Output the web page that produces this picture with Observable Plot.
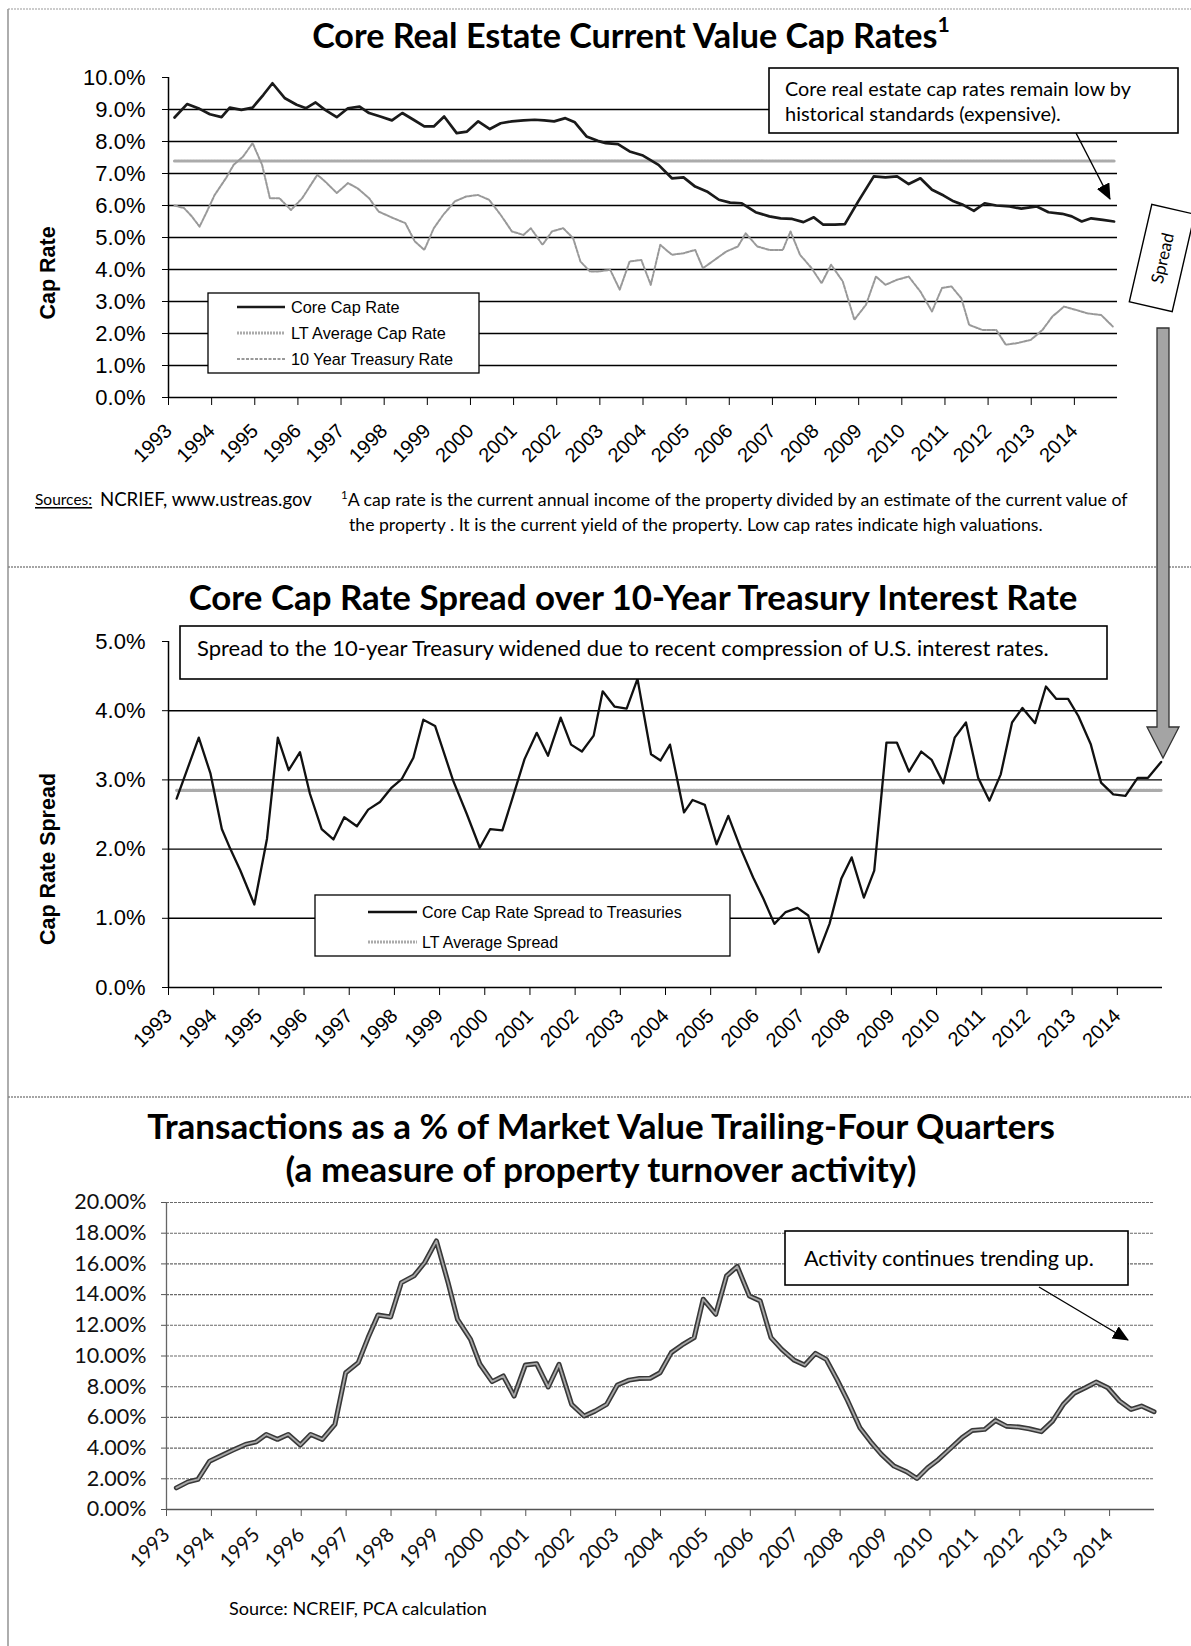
<!DOCTYPE html>
<html><head><meta charset="utf-8">
<script src="https://cdn.jsdelivr.net/npm/d3@7"></script>
<script src="https://cdn.jsdelivr.net/npm/@observablehq/plot@0.6"></script>
<style>
body{margin:0;background:#fff;}
#page{position:relative;width:1191px;height:1646px;overflow:hidden;background:#fff;}
</style></head>
<body><div id="page"></div>
<script>
// ---------------- DATA ----------------
const years = d3.range(1993, 2015); // tick labels 1993..2014

const coreT = [1993.14,1993.43,1993.72,1993.96,1994.23,1994.42,1994.69,1994.95,1995.20,1995.41,1995.70,1995.97,1996.19,1996.41,1996.63,1996.90,1997.16,1997.43,1997.65,1997.91,1998.18,1998.42,1998.68,1998.93,1999.15,1999.39,1999.68,1999.92,2000.18,2000.45,2000.70,2000.96,2001.23,2001.49,2001.71,2001.94,2002.20,2002.42,2002.69,2002.95,2003.14,2003.42,2003.69,2004.00,2004.36,2004.67,2004.94,2005.21,2005.48,2005.76,2006.02,2006.29,2006.61,2006.93,2007.19,2007.46,2007.72,2007.96,2008.18,2008.45,2008.68,2008.99,2009.35,2009.62,2009.89,2010.16,2010.43,2010.70,2010.97,2011.20,2011.42,2011.67,2011.92,2012.19,2012.50,2012.77,2013.13,2013.40,2013.72,2013.94,2014.17,2014.39,2014.66,2014.92];
const coreV = [8.75,9.17,9.02,8.85,8.76,9.06,8.99,9.06,9.46,9.82,9.35,9.15,9.04,9.22,8.99,8.76,9.04,9.09,8.89,8.78,8.66,8.89,8.68,8.47,8.47,8.78,8.26,8.31,8.63,8.39,8.57,8.63,8.66,8.68,8.66,8.63,8.73,8.60,8.16,8.02,7.95,7.92,7.69,7.56,7.27,6.85,6.88,6.59,6.44,6.18,6.09,6.07,5.79,5.66,5.60,5.58,5.48,5.63,5.40,5.40,5.42,6.13,6.91,6.88,6.91,6.67,6.85,6.49,6.31,6.13,6.02,5.83,6.07,6.00,5.97,5.90,5.97,5.79,5.74,5.66,5.50,5.60,5.55,5.50];

const ltCapT = [1993.14, 2014.92];
const ltCapV = [7.39, 7.39];

const tsyT = [1993.14,1993.36,1993.54,1993.72,1993.89,1994.07,1994.33,1994.51,1994.73,1994.95,1995.17,1995.35,1995.57,1995.84,1996.10,1996.45,1996.67,1996.90,1997.16,1997.38,1997.65,1997.87,1998.22,1998.49,1998.71,1998.93,1999.15,1999.37,1999.64,1999.90,2000.17,2000.43,2000.70,2000.96,2001.23,2001.40,2001.67,2001.89,2002.15,2002.38,2002.55,2002.77,2002.96,2003.24,2003.46,2003.69,2003.96,2004.18,2004.40,2004.67,2004.94,2005.21,2005.39,2005.66,2005.93,2006.20,2006.38,2006.65,2006.93,2007.24,2007.42,2007.64,2007.91,2008.14,2008.36,2008.63,2008.90,2009.17,2009.40,2009.62,2009.89,2010.16,2010.43,2010.70,2010.93,2011.15,2011.38,2011.56,2011.87,2012.19,2012.41,2012.68,2012.99,2013.26,2013.49,2013.76,2014.03,2014.30,2014.62,2014.89];
const tsyV = [6.00,5.92,5.66,5.34,5.81,6.33,6.85,7.27,7.53,7.95,7.27,6.23,6.23,5.86,6.23,6.96,6.70,6.39,6.70,6.54,6.23,5.81,5.60,5.45,4.88,4.61,5.29,5.71,6.13,6.28,6.33,6.18,5.71,5.19,5.08,5.29,4.77,5.19,5.29,4.98,4.25,3.94,3.94,3.99,3.37,4.25,4.30,3.52,4.77,4.46,4.51,4.61,4.04,4.30,4.56,4.72,5.13,4.72,4.61,4.61,5.19,4.46,4.04,3.57,4.15,3.63,2.43,2.90,3.78,3.52,3.68,3.78,3.31,2.69,3.42,3.47,3.10,2.27,2.11,2.11,1.65,1.70,1.80,2.11,2.53,2.84,2.74,2.63,2.58,2.22];

const spreadT = [1993.18,1993.67,1993.93,1994.18,1994.37,1994.59,1994.90,1995.18,1995.42,1995.66,1995.91,1996.13,1996.39,1996.65,1996.89,1997.17,1997.42,1997.68,1997.94,1998.16,1998.42,1998.64,1998.90,1999.30,1999.60,1999.89,2000.12,2000.39,2000.62,2000.88,2001.15,2001.40,2001.68,2001.91,2002.15,2002.41,2002.61,2002.87,2003.14,2003.38,2003.68,2003.89,2004.10,2004.41,2004.60,2004.87,2005.13,2005.39,2005.67,2005.94,2006.17,2006.41,2006.66,2006.92,2007.16,2007.39,2007.63,2007.89,2008.12,2008.39,2008.62,2008.89,2009.12,2009.39,2009.66,2009.89,2010.15,2010.40,2010.65,2010.92,2011.17,2011.42,2011.67,2011.90,2012.18,2012.42,2012.65,2012.91,2013.14,2013.41,2013.64,2013.91,2014.18,2014.45,2014.68,2014.97];
const spreadV = [2.73,3.61,3.09,2.29,2.00,1.69,1.20,2.15,3.61,3.14,3.40,2.80,2.29,2.14,2.46,2.33,2.57,2.68,2.89,3.01,3.32,3.87,3.78,2.99,2.51,2.02,2.29,2.27,2.75,3.30,3.68,3.35,3.90,3.51,3.41,3.64,4.28,4.06,4.03,4.46,3.37,3.28,3.51,2.53,2.71,2.64,2.07,2.48,2.00,1.59,1.28,0.92,1.09,1.15,1.04,0.51,0.92,1.57,1.88,1.30,1.69,3.54,3.54,3.12,3.41,3.29,2.95,3.61,3.83,3.03,2.70,3.08,3.83,4.04,3.82,4.35,4.17,4.17,3.92,3.52,2.96,2.79,2.77,3.03,3.03,3.26];

const ltSpreadT = [1993.18, 2014.97];
const ltSpreadV = [2.85, 2.85];

const txnT = [1993.22,1993.48,1993.70,1993.96,1994.20,1994.48,1994.76,1995.00,1995.22,1995.47,1995.71,1995.98,1996.21,1996.47,1996.75,1996.99,1997.27,1997.49,1997.71,1997.99,1998.23,1998.51,1998.75,1999.01,1999.27,1999.48,1999.77,1999.98,2000.25,2000.50,2000.74,2000.99,2001.24,2001.50,2001.74,2002.02,2002.30,2002.54,2002.80,2003.04,2003.30,2003.53,2003.77,2003.99,2004.24,2004.48,2004.75,2004.95,2005.23,2005.47,2005.71,2005.98,2006.22,2006.46,2006.70,2006.98,2007.21,2007.45,2007.69,2007.93,2008.17,2008.44,2008.68,2008.92,2009.20,2009.48,2009.71,2009.95,2010.19,2010.43,2010.71,2010.94,2011.22,2011.46,2011.70,2011.98,2012.21,2012.48,2012.73,2012.97,2013.21,2013.46,2013.70,2013.96,2014.22,2014.48,2014.71,2014.99];
const txnV = [1.41,1.80,1.96,3.15,3.48,3.87,4.24,4.41,4.89,4.57,4.89,4.20,4.89,4.57,5.54,8.91,9.57,11.20,12.67,12.54,14.78,15.22,16.09,17.50,14.78,12.39,11.09,9.46,8.33,8.70,7.39,9.41,9.50,7.98,9.46,6.85,6.09,6.41,6.85,8.11,8.43,8.54,8.55,8.91,10.22,10.72,11.20,13.70,12.72,15.22,15.83,13.91,13.59,11.20,10.43,9.72,9.41,10.17,9.78,8.48,7.07,5.33,4.41,3.59,2.83,2.46,2.02,2.72,3.26,3.91,4.67,5.15,5.22,5.80,5.43,5.37,5.26,5.07,5.76,6.85,7.57,7.93,8.30,7.93,7.07,6.52,6.74,6.37];

const capTicks = d3.range(0, 11);
const capGrid = d3.range(1, 10);
const spreadTicks = d3.range(0, 6);
const spreadGrid = d3.range(1, 5);
const txnTicks = d3.range(0, 21, 2);
const txnGrid = d3.range(2, 21, 2);

// ---------------- LAYOUT ----------------
const W = 1191;
const page = document.getElementById("page");
const ARIAL = "'Liberation Sans', Arial, sans-serif";
const CAL = "Lato, 'Open Sans', sans-serif";
const pts = (T, V) => T.map((t, i) => ({t, v: V[i]}));

function place(svg, top) {
  svg.style.position = "absolute";
  svg.style.left = "0px";
  svg.style.top = top + "px";
  page.appendChild(svg);
}

// Top chart: cap rates
const c1 = Plot.plot({
  width: W, height: 470,
  marginLeft: 168, marginRight: W - 1117, marginTop: 77, marginBottom: 73,
  style: {fontFamily: ARIAL, fontSize: "18px", background: "transparent", overflow: "visible"},
  x: {domain: [1993, 2015], axis: null, label: null},
  y: {domain: [0, 10], axis: null, label: null},
  marks: [
    Plot.ruleY(capGrid, {stroke: "#000", strokeWidth: 1.4}),
    Plot.line(pts(ltCapT, ltCapV), {x: "t", y: "v", stroke: "#ababab", strokeWidth: 3.2, strokeDasharray: "2,1"}),
    Plot.line(pts(tsyT, tsyV), {x: "t", y: "v", stroke: "#999", strokeWidth: 2, strokeDasharray: "3,1.5"}),
    Plot.line(pts(coreT, coreV), {x: "t", y: "v", stroke: "#1a1a1a", strokeWidth: 2.7}),
    Plot.ruleX([1993], {stroke: "#000", strokeWidth: 1.5}),
    Plot.ruleY([0], {stroke: "#000", strokeWidth: 1.5}),
    Plot.axisY({ticks: capTicks, tickFormat: d => d.toFixed(1) + "%", label: null, tickSize: 6, tickPadding: 17, fontSize: 22, stroke: "#000", fill: "#000"}),
    Plot.axisX({ticks: years, tickFormat: d => String(d), label: null, tickRotate: -45, tickSize: 8, tickPadding: 22, fontSize: 20, stroke: "#000", fill: "#000"})
  ]
});
place(c1, 0);

// Middle chart: spread
const c2 = Plot.plot({
  width: W, height: 500,
  marginLeft: 168, marginRight: W - 1162, marginTop: 81, marginBottom: 73,
  style: {fontFamily: ARIAL, fontSize: "18px", background: "transparent", overflow: "visible"},
  x: {domain: [1993, 2015], axis: null, label: null},
  y: {domain: [0, 5], axis: null, label: null},
  marks: [
    Plot.ruleY(spreadGrid, {stroke: "#000", strokeWidth: 1.4}),
    Plot.line(pts(ltSpreadT, ltSpreadV), {x: "t", y: "v", stroke: "#ababab", strokeWidth: 3.2, strokeDasharray: "2,1"}),
    Plot.line(pts(spreadT, spreadV), {x: "t", y: "v", stroke: "#111", strokeWidth: 2.3}),
    Plot.ruleX([1993], {stroke: "#000", strokeWidth: 1.5}),
    Plot.ruleY([0], {stroke: "#000", strokeWidth: 1.5}),
    Plot.axisY({ticks: spreadTicks, tickFormat: d => d.toFixed(1) + "%", label: null, tickSize: 6, tickPadding: 17, fontSize: 22, stroke: "#000", fill: "#000"}),
    Plot.axisX({ticks: years, tickFormat: d => String(d), label: null, tickRotate: -45, tickSize: 8, tickPadding: 17, fontSize: 20, stroke: "#000", fill: "#000"})
  ]
});
place(c2, 560);

// Bottom chart: transactions
const c3 = Plot.plot({
  width: W, height: 500,
  marginLeft: 166, marginRight: W - 1154, marginTop: 102, marginBottom: 91,
  style: {fontFamily: CAL, fontSize: "18px", background: "transparent", overflow: "visible"},
  x: {domain: [1993, 2015], axis: null, label: null},
  y: {domain: [0, 20], axis: null, label: null},
  marks: [
    Plot.ruleY(txnGrid, {stroke: "#6a6a6a", strokeWidth: 1.1, strokeDasharray: "3,1"}),
    Plot.line(pts(txnT, txnV), {x: "t", y: "v", stroke: "#383838", strokeWidth: 5}),
    Plot.line(pts(txnT, txnV), {x: "t", y: "v", stroke: "#a8a8a8", strokeWidth: 1.8}),
    Plot.ruleX([1993], {stroke: "#666", strokeWidth: 1.3}),
    Plot.ruleY([0], {stroke: "#555", strokeWidth: 1.3}),
    Plot.axisY({ticks: txnTicks, tickFormat: d => d.toFixed(2) + "%", label: null, tickSize: 5, tickPadding: 15, fontSize: 21.5, stroke: "#555", fill: "#111"}),
    Plot.axisX({ticks: years, tickFormat: d => String(d), label: null, tickRotate: -45, tickSize: 7, tickPadding: 15, fontSize: 20, stroke: "#555", fill: "#111"})
  ]
});
place(c3, 1100);

// ---------------- OVERLAY (annotations, titles, legends) ----------------
const ov = d3.select(page).append("svg")
  .attr("width", W).attr("height", 1646)
  .style("position", "absolute").style("left", "0px").style("top", "0px");

const defs = ov.append("defs");
defs.append("marker").attr("id", "ah").attr("markerUnits", "userSpaceOnUse")
  .attr("markerWidth", 16).attr("markerHeight", 14).attr("refX", 15).attr("refY", 7).attr("orient", "auto")
  .append("path").attr("d", "M0,0 L16,7 L0,14 Z").attr("fill", "#000");

function txt(x, y, s, o = {}) {
  const size = o.size || 16;
  const t = ov.append("text").attr("x", x).attr("y", y)
    .attr("font-family", o.family || CAL).attr("font-size", size)
    .attr("font-weight", o.weight || 400).attr("text-anchor", o.anchor || "start")
    .attr("dominant-baseline", "central").attr("fill", o.fill || "#000");
  if (o.transform) t.attr("transform", o.transform);
  if (o.sup) {
    t.append("tspan").text(s);
    t.append("tspan").attr("font-size", size * 0.62).attr("dy", -size * 0.28).text(o.sup);
  } else if (o.pre) {
    t.append("tspan").attr("font-size", size * 0.65).attr("dy", -size * 0.3).text(o.pre);
    t.append("tspan").attr("dy", size * 0.3).text(s);
  } else t.text(s);
  if (o.fit) {
    const L = t.node().getComputedTextLength();
    const k = o.fit / L;
    t.attr("font-size", size * k);
    t.selectAll("tspan").each(function() {
      const ts = d3.select(this);
      if (ts.attr("font-size")) ts.attr("font-size", +ts.attr("font-size") * k);
      if (ts.attr("dy")) ts.attr("dy", +ts.attr("dy") * k);
    });
  }
  if (o.underline) t.attr("text-decoration", "underline");
  return t;
}
function box(x, y, w, h, sw = 1.6) {
  ov.append("rect").attr("x", x).attr("y", y).attr("width", w).attr("height", h)
    .attr("fill", "#fff").attr("stroke", "#000").attr("stroke-width", sw);
}
function seg(x1, y1, x2, y2, o = {}) {
  const l = ov.append("line").attr("x1", x1).attr("y1", y1).attr("x2", x2).attr("y2", y2)
    .attr("stroke", o.stroke || "#000").attr("stroke-width", o.width || 1.5);
  if (o.dash) l.attr("stroke-dasharray", o.dash);
  if (o.marker) l.attr("marker-end", "url(#ah)");
  return l;
}

// page frame and dividers
seg(8, 9, 8, 1646, {stroke: "#777", width: 1.2});
seg(8, 9, W, 9, {stroke: "#999", width: 1, dash: "2,1"});
seg(8, 567, W, 567, {stroke: "#888", width: 1.6, dash: "2,1"});
seg(8, 1097, W, 1097, {stroke: "#888", width: 1.6, dash: "2,1"});

// Titles
txt(631, 34, "Core Real Estate Current Value  Cap Rates", {size: 28, weight: 700, anchor: "middle", sup: "1", fit: 638});
txt(633, 596, "Core Cap Rate Spread over 10-Year Treasury Interest Rate", {size: 29, weight: 700, anchor: "middle", fit: 889});
txt(601, 1125, "Transactions as a % of Market Value Trailing-Four  Quarters", {size: 29, weight: 700, anchor: "middle", fit: 908});
txt(601, 1168, "(a measure of property turnover activity)", {size: 29, weight: 700, anchor: "middle", fit: 631});

// y-axis titles
txt(0, 0, "Cap Rate", {family: ARIAL, size: 21.5, weight: 700, anchor: "middle", transform: "translate(48,273) rotate(-90)"});
txt(0, 0, "Cap Rate Spread", {family: ARIAL, size: 21.5, weight: 700, anchor: "middle", transform: "translate(48,859) rotate(-90)"});

// Top annotation
box(769, 68, 409, 65);
txt(785, 88, "Core real estate cap rates remain low by", {size: 17.5, fit: 346});
txt(785, 113, "historical standards (expensive).", {size: 17.5, fit: 276});
seg(1076, 133, 1110, 199, {width: 1.4, marker: true});

// Top legend
box(208, 293, 271, 80, 1.3);
const leg1 = [
  {label: "Core Cap Rate", stroke: "#1a1a1a", w: 2.7, dash: null},
  {label: "LT Average Cap Rate", stroke: "#ababab", w: 3.2, dash: "2,1"},
  {label: "10 Year Treasury Rate", stroke: "#999", w: 2, dash: "3,1.5"}
];
leg1.forEach((d, i) => {
  const y = 307 + i * 26;
  seg(237, y, 285, y, {stroke: d.stroke, width: d.w, dash: d.dash});
  txt(291, y, d.label, {family: ARIAL, size: 16.3});
});

// Sources / footnote
txt(35, 499, "Sources:", {size: 15.5, underline: true});
txt(100, 499, "NCRIEF, www.ustreas.gov", {size: 15.5, fit: 212});
txt(341, 499, "A cap rate is the current annual income of the property divided by an estimate of the current value of", {size: 15.5, pre: "1", fit: 787});
txt(349, 524, "the property . It is the current yield of the property.  Low cap rates indicate high valuations.", {size: 15.5, fit: 694});

// Middle annotation
box(180, 626, 927, 53);
txt(197, 647, "Spread to the 10-year Treasury widened due to recent compression of U.S.  interest rates.", {size: 19, fit: 852});

// Middle legend
box(315, 895, 415, 61, 1.3);
const leg2 = [
  {label: "Core Cap Rate Spread to Treasuries", stroke: "#111", w: 2.3, dash: null},
  {label: "LT Average Spread", stroke: "#ababab", w: 3.2, dash: "2,1"}
];
leg2.forEach((d, i) => {
  const y = 912 + i * 30;
  seg(368, y, 417, y, {stroke: d.stroke, width: d.w, dash: d.dash});
  txt(422, y, d.label, {family: ARIAL, size: 16});
});

// Spread tag and big gray arrow
const g = ov.append("g").attr("transform", "translate(1162,258) rotate(13)");
g.append("rect").attr("x", -22).attr("y", -50).attr("width", 44).attr("height", 100)
  .attr("fill", "#fff").attr("stroke", "#000").attr("stroke-width", 1.4);
g.append("text").attr("transform", "rotate(-90)").attr("text-anchor", "middle").attr("dominant-baseline", "central")
  .attr("font-family", CAL).attr("font-size", 17).text("Spread");
ov.append("path")
  .attr("d", "M1157,328 L1169,328 L1169,727 L1179,727 L1163,758 L1147,727 L1157,727 Z")
  .attr("fill", "#a4a4a4").attr("stroke", "#333").attr("stroke-width", 1.3);

// Bottom annotation
box(785, 1231, 343, 54);
txt(804, 1258, "Activity continues  trending up.", {size: 18.5, fit: 290});
seg(1039, 1287, 1128, 1340, {width: 1.4, marker: true});

// Bottom source
txt(229, 1608, "Source:  NCREIF, PCA calculation", {size: 15.5, fit: 258});
</script>
</body></html>
